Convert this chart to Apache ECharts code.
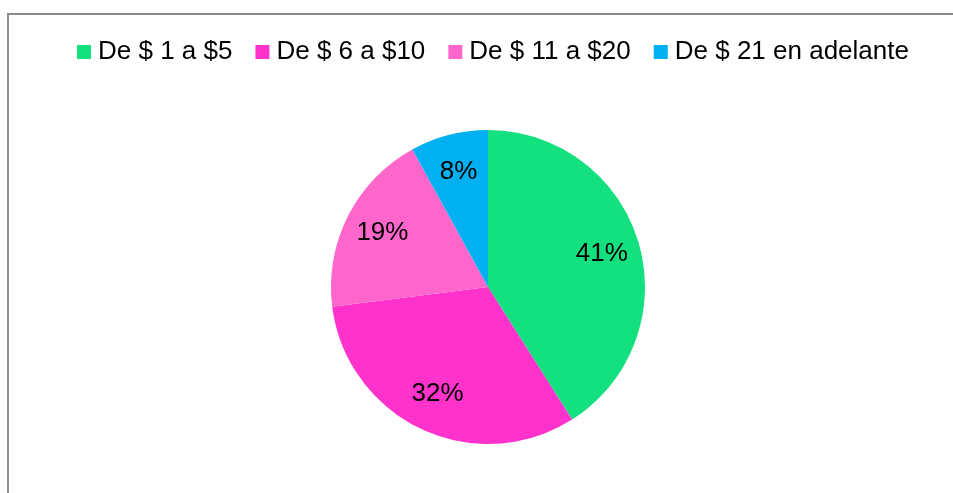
<!DOCTYPE html>
<html>
<head>
<meta charset="utf-8">
<script src="https://cdn.jsdelivr.net/npm/echarts@6/dist/echarts.min.js"></script>
<style>
  html, body { margin: 0; padding: 0; background: #fff; }
  #chart { width: 953px; height: 493px; }
</style>
</head>
<body>
<div id="chart"></div>
<script>
const categories = ['De $ 1 a $5', 'De $ 6 a $10', 'De $ 11 a $20', 'De $ 21 en adelante']
const shares = [41, 32, 19, 8]
const colors = ['#13e07f', '#ff33cc', '#ff66cc', '#00b0f0']

const pieData = categories.map((name, i) => ({ name, value: shares[i] }))

const myChart = echarts.init(document.getElementById('chart'))
const option = {
  animation: false,
  color: colors,
  graphic: [
    {
      type: 'rect',
      shape: { x: 8, y: 14, width: 980, height: 520 },
      style: { fill: 'none', stroke: '#8c8c8c', lineWidth: 2 },
      silent: true
    }
  ],
  legend: {
    data: categories,
    top: 39,
    left: 77,
    padding: 0,
    icon: 'rect',
    itemWidth: 14,
    itemHeight: 14,
    itemGap: 23,
    textStyle: {
      fontFamily: 'Liberation Sans, Arial, sans-serif',
      fontSize: 26,
      color: '#000',
      padding: [0, 0, 0, 2]
    }
  },
  series: [
    {
      type: 'pie',
      center: [488, 287],
      radius: [0, 157],
      startAngle: 90,
      clockwise: true,
      label: { show: false },
      labelLine: { show: false },
      emphasis: { disabled: true },
      data: pieData
    },
    {
      // transparent ring used only to place the percentage labels
      type: 'pie',
      center: [488, 287],
      radius: [74, 157],
      startAngle: 90,
      clockwise: true,
      silent: true,
      itemStyle: { color: 'rgba(0,0,0,0)' },
      label: {
        show: true,
        position: 'inside',
        formatter: '{d}%',
        fontFamily: 'Liberation Sans, Arial, sans-serif',
        fontSize: 26,
        color: '#000'
      },
      labelLine: { show: false },
      emphasis: { disabled: true },
      data: pieData
    }
  ]
}
myChart.setOption(option)

window.addEventListener('resize', () => {
  myChart.resize()
})
</script>
</body>
</html>
